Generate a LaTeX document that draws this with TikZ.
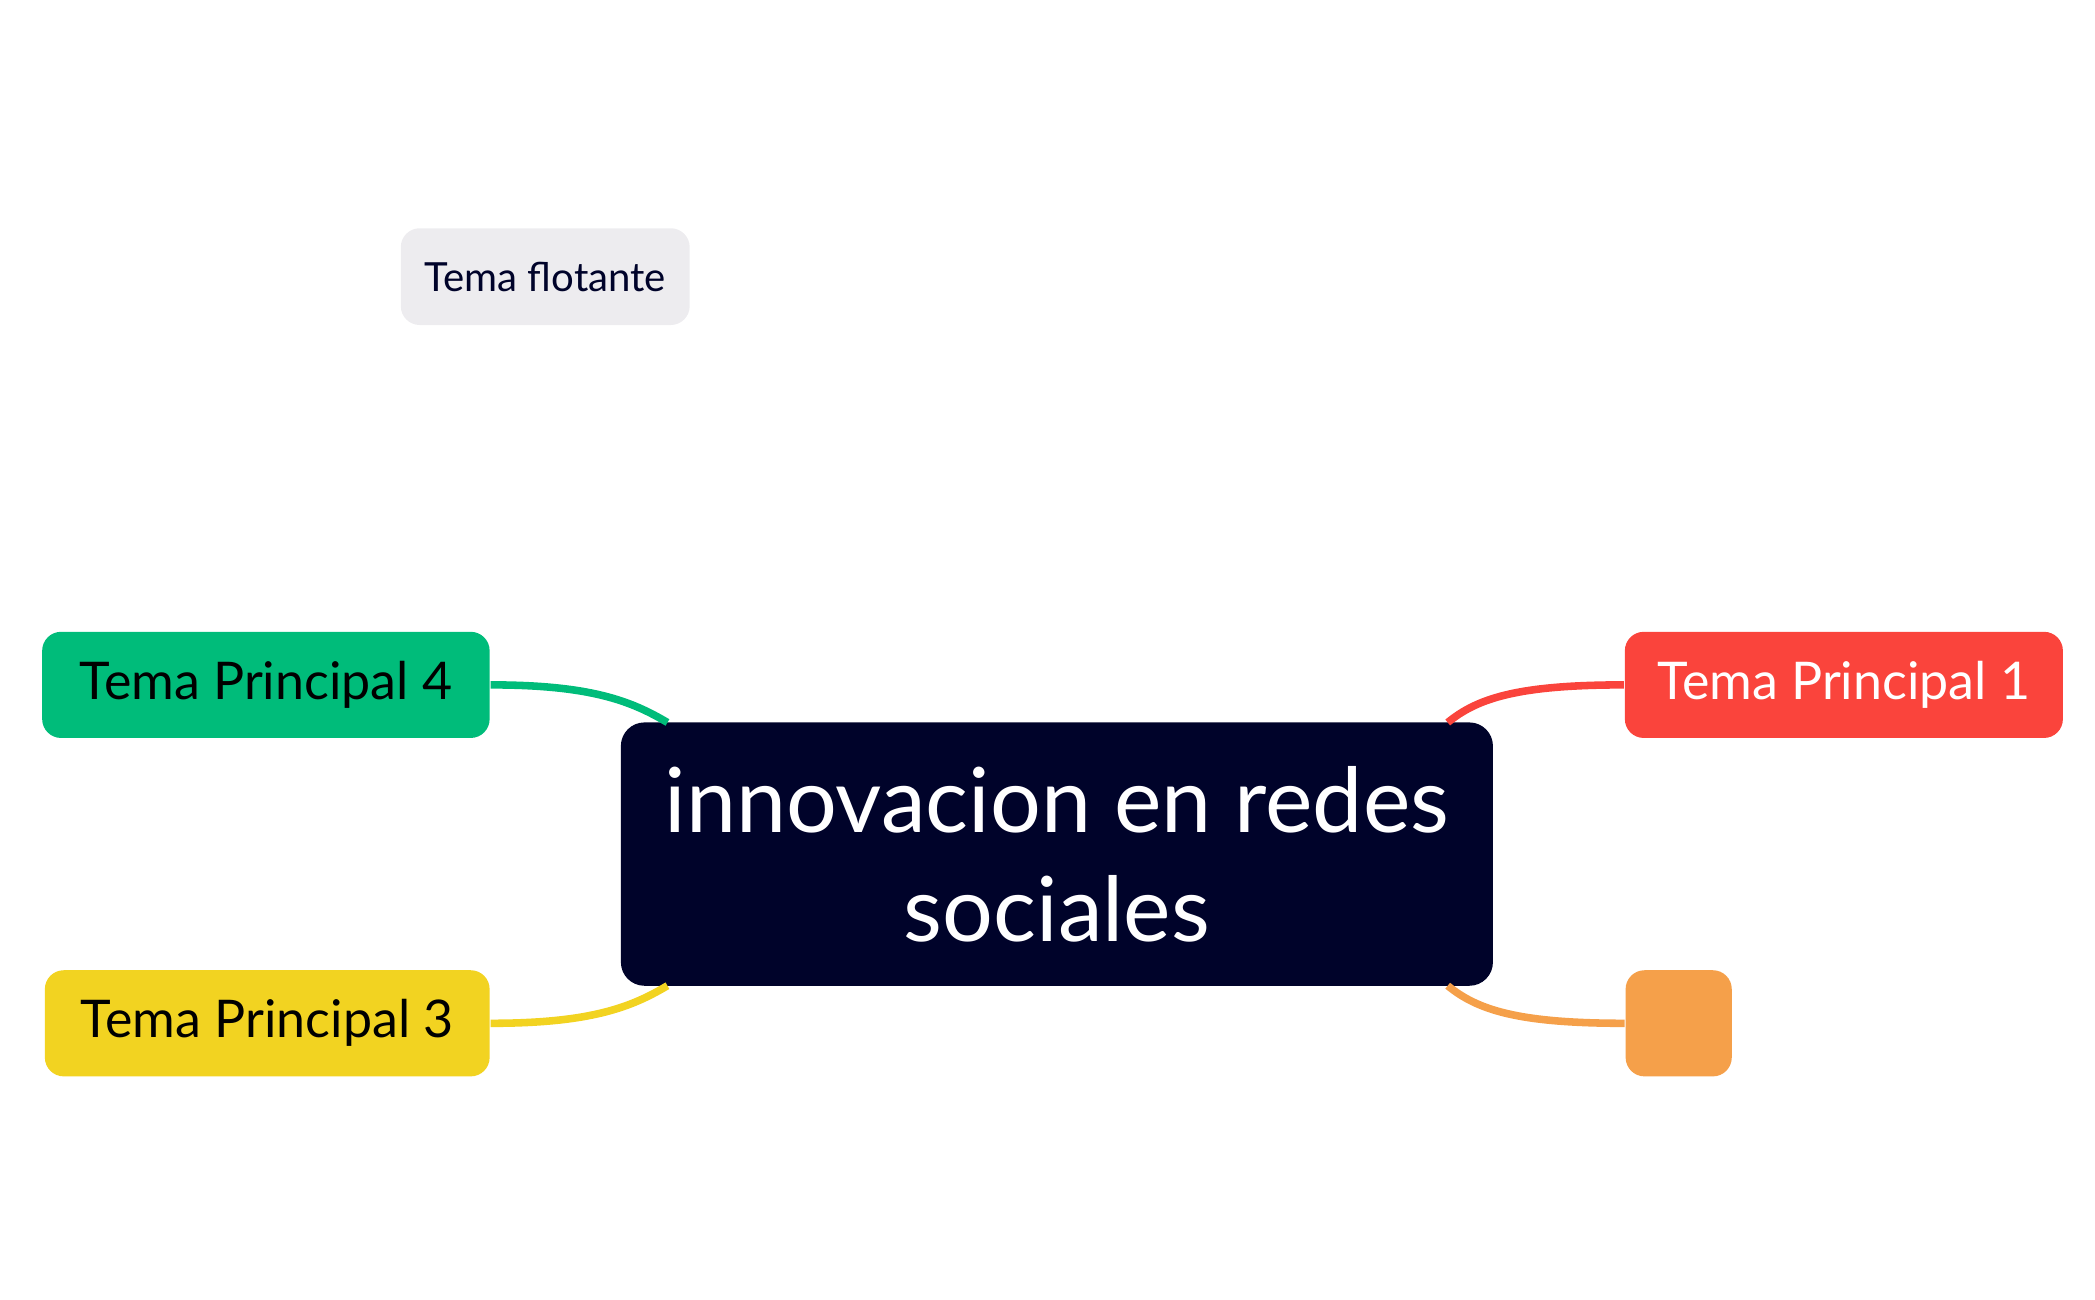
\documentclass[tikz,border=0pt]{standalone}
\usepackage{fontspec}
\setmainfont{Lato}
\usetikzlibrary{positioning}
\definecolor{centralbg}{HTML}{00032A}
\definecolor{topicred}{HTML}{FA443C}
\definecolor{topicorange}{HTML}{F5A04A}
\definecolor{topicyellow}{HTML}{F2D321}
\definecolor{topicgreen}{HTML}{00BC7A}
\definecolor{floatgray}{HTML}{EDECEF}
\tikzset{
  topic/.style={rounded corners=4pt,minimum height=0.79cm,font=\fontsize{11}{13}\selectfont,inner sep=0pt},
  branch/.style={line width=1.6pt}
}
\begin{document}
\begin{tikzpicture}[x=0.01cm,y=-0.01cm]
  \useasboundingbox (0,0) rectangle (1560,968);
  \node[fill=centralbg,text=white,rounded corners=5pt,minimum width=6.49cm,minimum height=1.96cm,
        align=center,font=\fontsize{19}{23}\selectfont] (central) at (787,636) {innovacion en redes\\sociales};
  \node[topic,fill=topicred,text=white,minimum width=3.26cm] (t1) at (1373,510) {Tema Principal 1};
  \node[topic,fill=topicorange,minimum width=0.79cm] (t2) at (1250,762) {};
  \node[topic,fill=topicyellow,minimum width=3.31cm] (t3) at (199,762) {Tema Principal 3};
  \node[topic,fill=topicgreen,minimum width=3.33cm] (t4) at (198,510) {Tema Principal 4};
  \node[topic,fill=floatgray,text=centralbg,minimum width=2.15cm,minimum height=0.72cm,
        font=\fontsize{8.5}{10}\selectfont] (float) at (406,206) {Tema flotante};
  % branches
  \begin{scope}[on background layer/.style={}]
  \end{scope}
  \draw[branch,topicred] (t1.west) .. controls (1130,510) and (1100,520) .. (1078,538);
  \draw[branch,topicorange] (t2.west) .. controls (1130,762) and (1100,752) .. (1078,734);
  \draw[branch,topicyellow] (t3.east) .. controls (440,762) and (470,750) .. (497,734);
  \draw[branch,topicgreen] (t4.east) .. controls (440,510) and (470,522) .. (497,538);
\end{tikzpicture}
\end{document}
